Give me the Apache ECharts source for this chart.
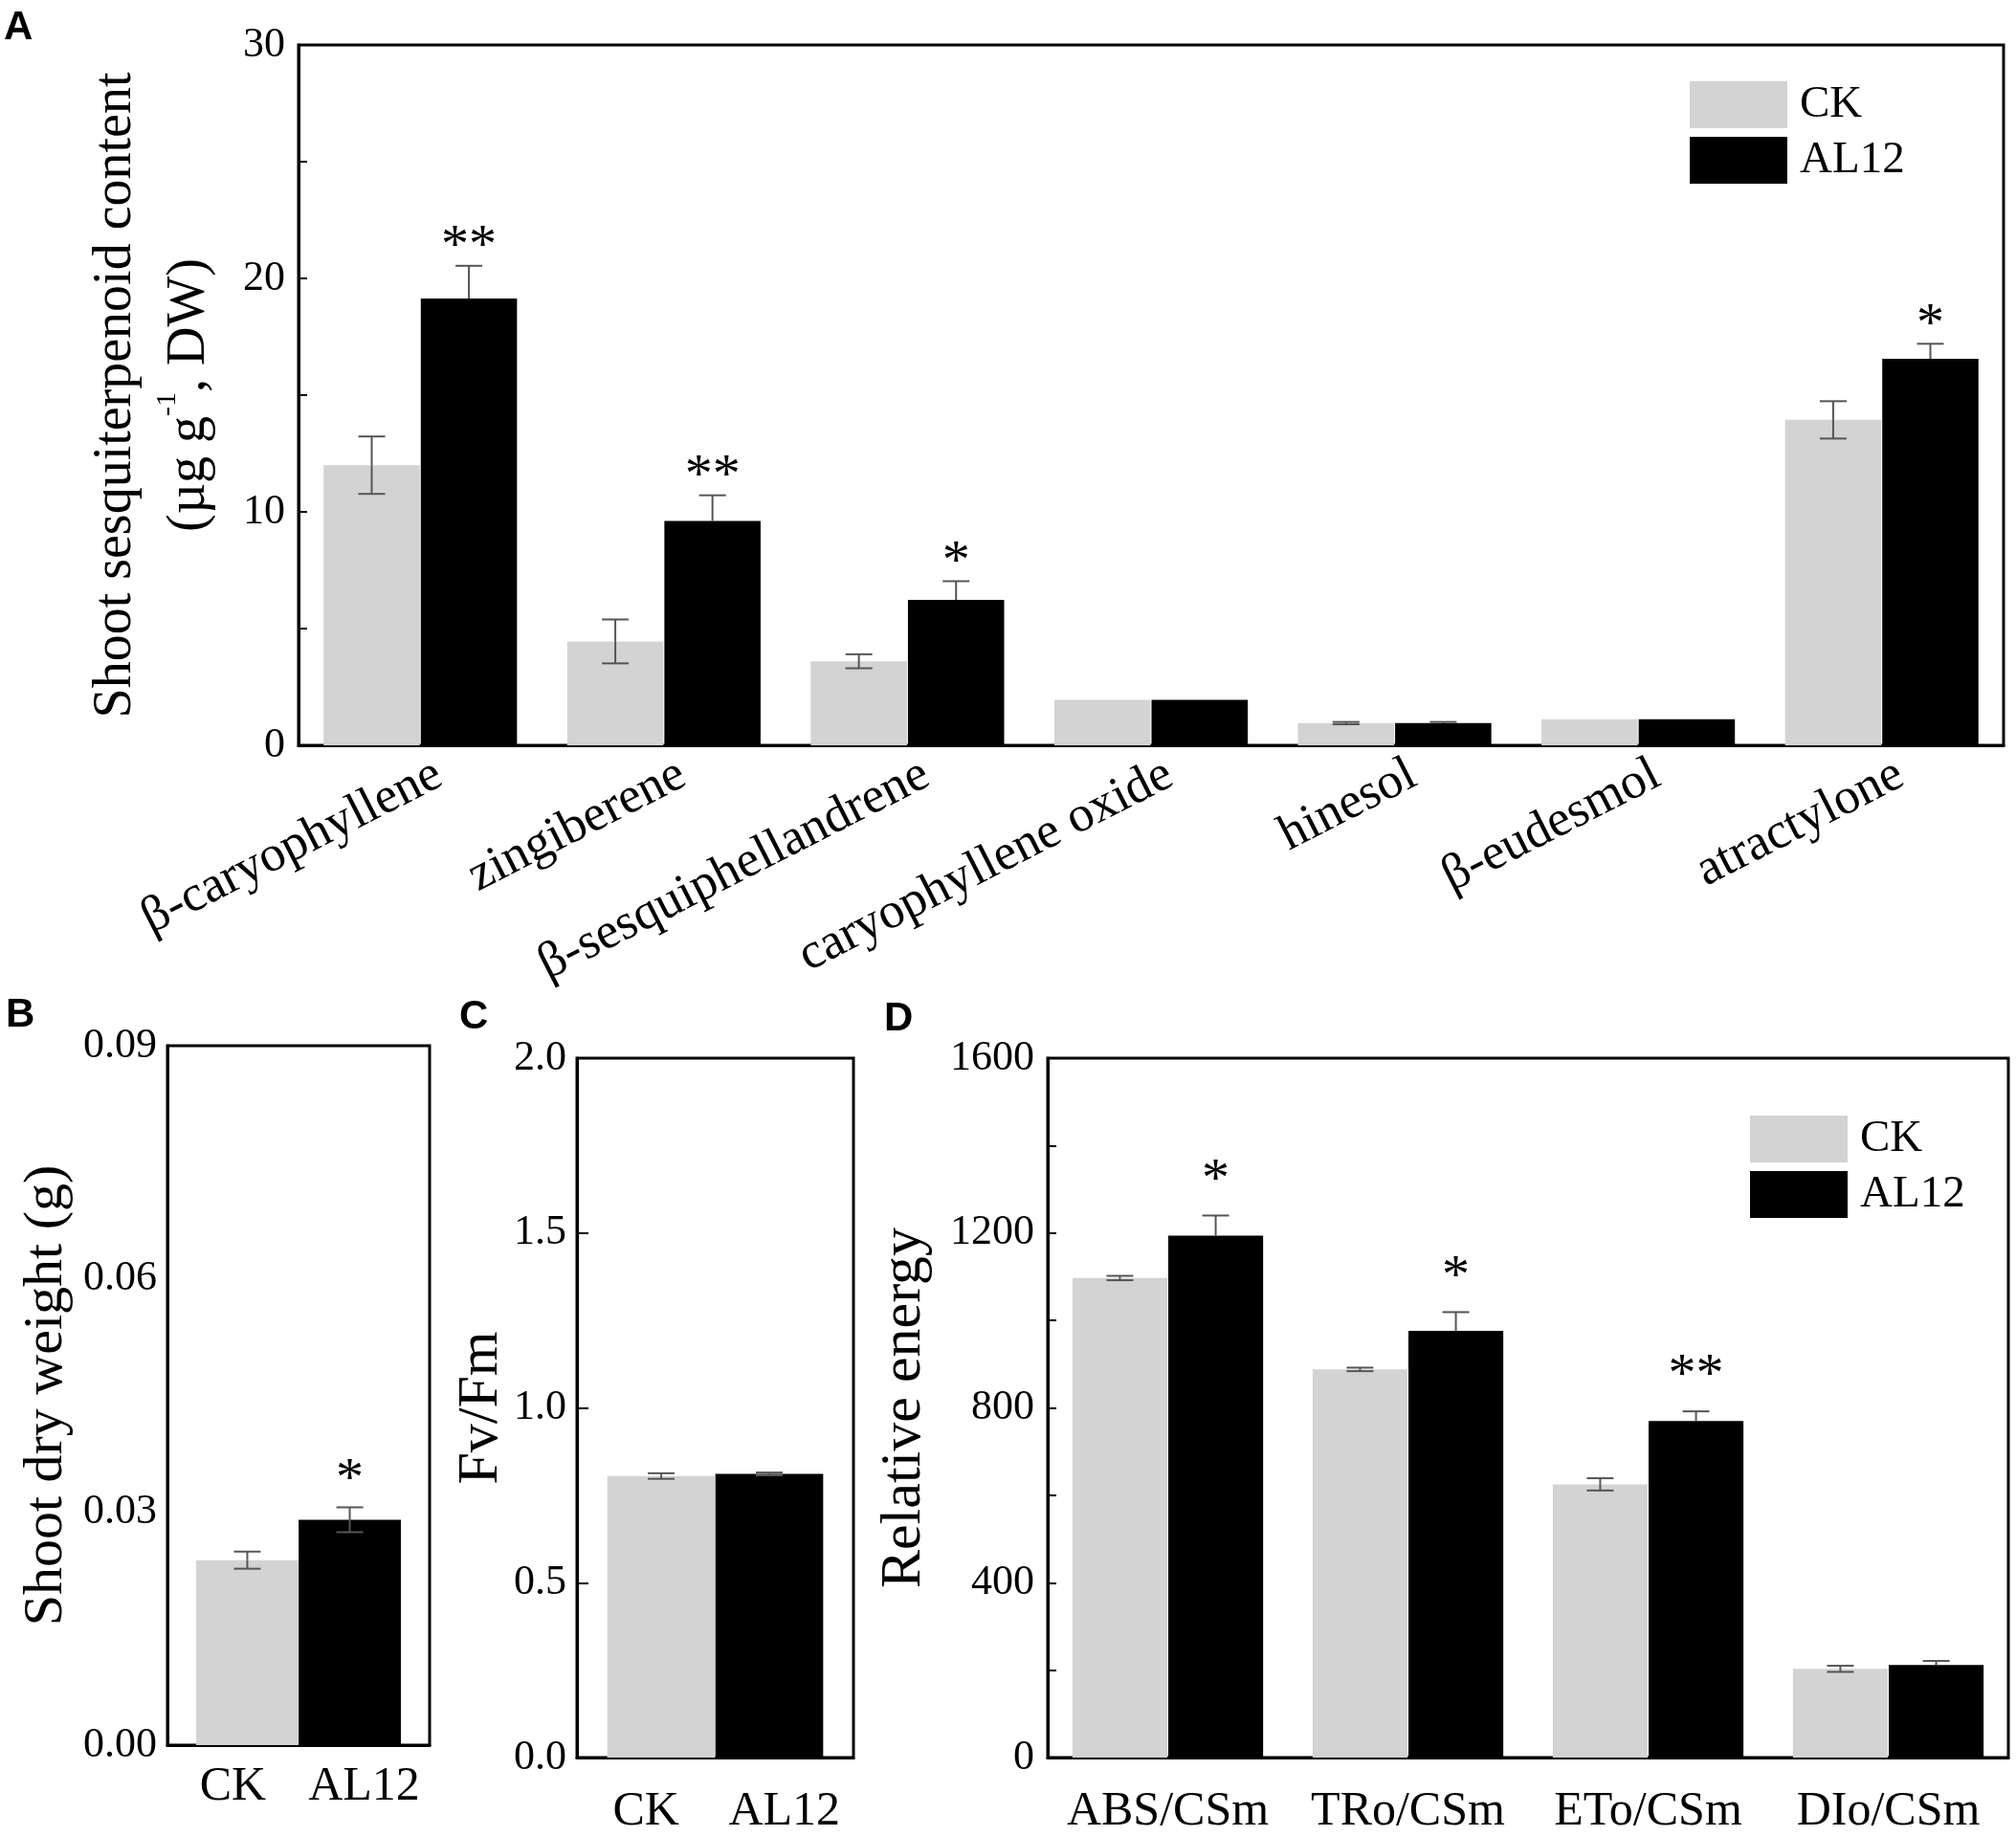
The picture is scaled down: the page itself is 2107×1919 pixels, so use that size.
<!DOCTYPE html>
<html>
<head>
<meta charset="utf-8">
<script src="https://cdn.jsdelivr.net/npm/echarts@6/dist/echarts.min.js"></script>
<style>
  html, body { margin: 0; padding: 0; background: #fff; }
  #chart { width: 2107px; height: 1919px; }
</style>
</head>
<body>
<div id="chart"></div>
<script>
// ---- data ----
var categoriesA = ['β-caryophyllene', 'zingiberene', 'β-sesquiphellandrene', 'caryophyllene oxide', 'hinesol', 'β-eudesmol', 'atractylone'];
var ckA = [12.0, 4.45, 3.6, 1.95, 0.95, 1.12, 13.94];
var ckAErr = [1.23, 0.94, 0.3, 0, 0.05, 0, 0.8];
var al12A = [19.14, 9.61, 6.23, 1.95, 0.95, 1.12, 16.56];
var al12AErr = [1.4, 1.1, 0.8, 0, 0.05, 0, 0.64];
var sigA = ['**', '**', '*', '', '', '', '*'];

var categoriesBC = ['CK', 'AL12'];
var weightB = [0.0238, 0.0290];
var weightBErr = [0.0011, 0.0016];
var sigB = ['', '*'];

var fvfmC = [0.805, 0.811];
var fvfmCErr = [0.008, 0.004];
var sigC = ['', ''];

var categoriesD = ['ABS/CSm', 'TRo/CSm', 'ETo/CSm', 'DIo/CSm'];
var ckD = [1097, 888, 625, 203];
var ckDErr = [5, 4, 14, 7];
var al12D = [1194, 976, 770, 212];
var al12DErr = [46, 43, 22, 9];
var sigD = ['*', '*', '**', ''];

var SERIF = '"Liberation Serif", "Times New Roman", serif';
var GREY = '#d3d3d3';

// bar geometry shared with the error bar series (fractions of the band width)
var pairWidth = 0.395, pairGap = 0.01;
var pairOffset = (pairWidth + pairWidth * pairGap) / 2;      // A and D: CK left, AL12 right
var soloWidth = 0.78, soloGap = -0.72;
var soloOffset = (soloWidth + soloWidth * soloGap) / 2;      // B and C: bars pulled to the middle

function errSeries(id, xi, values, errs, sig, offsets, showLower, starLift) {
    var data = values.map(function (v, i) { return [i, v, errs[i]]; });
    return {
        type: 'custom', name: id, xAxisIndex: xi, yAxisIndex: xi, z: 5,
        silent: true, clip: false,
        encode: { x: 0, y: 1 },
        data: data,
        renderItem: function (params, api) {
            var i = api.value(0), v = api.value(1), e = api.value(2);
            var band = api.size([1, 0])[0];
            var base = api.coord([i, v]);
            var x = base[0] + offsets[params.dataIndex] * band;
            var yTop = api.coord([i, v + e])[1];
            var yBot = api.coord([i, v - e])[1];
            var cap = 14;
            var ls = { stroke: '#555', lineWidth: 2 };
            var kids = [];
            if (e > 0) {
                kids.push({ type: 'line', shape: { x1: x, y1: yTop, x2: x, y2: base[1] }, style: ls });
                kids.push({ type: 'line', shape: { x1: x - cap, y1: yTop, x2: x + cap, y2: yTop }, style: ls });
                if (showLower) {
                    kids.push({ type: 'line', shape: { x1: x, y1: base[1], x2: x, y2: yBot }, style: ls });
                    kids.push({ type: 'line', shape: { x1: x - cap, y1: yBot, x2: x + cap, y2: yBot }, style: ls });
                }
            }
            var s = sig[params.dataIndex];
            if (s) {
                kids.push({
                    type: 'text',
                    style: {
                        text: s, x: x, y: yTop - starLift,
                        font: '58px ' + SERIF, fill: '#000',
                        align: 'center', verticalAlign: 'middle',
                        textAlign: 'center', textVerticalAlign: 'middle'
                    }
                });
            }
            return { type: 'group', children: kids };
        }
    };
}

function fill(n, v) { var a = []; for (var i = 0; i < n; i++) a.push(v); return a; }

var frame = { show: true, borderColor: '#000', borderWidth: 3, backgroundColor: 'transparent' };
var axisLine = { show: true, lineStyle: { color: '#000', width: 3 } };
var tickLabel = { color: '#000', fontFamily: SERIF, fontSize: 44, margin: 14 };

var chart = echarts.init(document.getElementById('chart'), null, { renderer: 'canvas' });

chart.setOption({
    animation: false,
    backgroundColor: '#fff',
    grid: [
        Object.assign({ left: 312, top: 47, width: 1782, height: 732 }, frame),
        Object.assign({ left: 175, top: 1093, width: 274, height: 731 }, frame),
        Object.assign({ left: 603, top: 1106, width: 289, height: 732 }, frame),
        Object.assign({ left: 1095, top: 1106, width: 1004, height: 732 }, frame)
    ],
    xAxis: [
        { gridIndex: 0, type: 'category', data: categoriesA, axisLine: axisLine, axisTick: { show: false },
          axisLabel: { interval: 0, rotate: 27, margin: 38, padding: [0, -22, 0, 0],
                       color: '#000', fontFamily: SERIF, fontSize: 53 } },
        { gridIndex: 1, type: 'category', data: categoriesBC, axisLine: axisLine, axisTick: { show: false },
          axisLabel: { interval: 0, margin: 19, color: '#000', fontFamily: SERIF, fontSize: 50 } },
        { gridIndex: 2, type: 'category', data: categoriesBC, axisLine: axisLine, axisTick: { show: false },
          axisLabel: { interval: 0, margin: 32, color: '#000', fontFamily: SERIF, fontSize: 50 } },
        { gridIndex: 3, type: 'category', data: categoriesD, axisLine: axisLine, axisTick: { show: false },
          axisLabel: { interval: 0, margin: 32, color: '#000', fontFamily: SERIF, fontSize: 50 } }
    ],
    yAxis: [
        { gridIndex: 0, type: 'value', min: 0, max: 30, interval: 10,
          axisLine: axisLine, splitLine: { show: false },
          axisTick: { show: true, inside: true, length: 9, lineStyle: { color: '#000', width: 2 } },
          minorTick: { show: true, splitNumber: 2, length: 9, lineStyle: { color: '#000', width: 2 } },
          axisLabel: tickLabel,
          name: '{t|Shoot sesquiterpenoid content}\n{t|(µg g}{s|-1}{t|, DW)}',
          nameLocation: 'middle', nameRotate: 90, nameGap: 75,
          nameTextStyle: { color: '#000', fontFamily: SERIF, fontSize: 56, lineHeight: 77,
              rich: {
                  t: { fontFamily: SERIF, fontSize: 56, lineHeight: 77, color: '#000' },
                  s: { fontFamily: SERIF, fontSize: 30, lineHeight: 77, color: '#000', verticalAlign: 'top' }
              } } },
        { gridIndex: 1, type: 'value', min: 0, max: 0.09, interval: 0.03,
          axisLine: axisLine, splitLine: { show: false }, axisTick: { show: false },
          axisLabel: Object.assign({}, tickLabel, { margin: 11, formatter: function (v) { return v.toFixed(2); } }),
          name: 'Shoot dry weight (g)', nameLocation: 'middle', nameRotate: 90, nameGap: 97,
          nameTextStyle: { color: '#000', fontFamily: SERIF, fontSize: 58, lineHeight: 58 } },
        { gridIndex: 2, type: 'value', min: 0, max: 2, interval: 0.5,
          axisLine: axisLine, splitLine: { show: false },
          axisTick: { show: true, inside: true, length: 12, lineStyle: { color: '#000', width: 2 } },
          axisLabel: Object.assign({}, tickLabel, { margin: 11, formatter: function (v) { return v.toFixed(1); } }),
          name: 'Fv/Fm', nameLocation: 'middle', nameRotate: 90, nameGap: 68,
          nameTextStyle: { color: '#000', fontFamily: SERIF, fontSize: 60, lineHeight: 60 } },
        { gridIndex: 3, type: 'value', min: 0, max: 1600, interval: 400,
          axisLine: axisLine, splitLine: { show: false },
          axisTick: { show: true, inside: true, length: 9, lineStyle: { color: '#000', width: 2 } },
          minorTick: { show: true, splitNumber: 2, length: 9, lineStyle: { color: '#000', width: 2 } },
          axisLabel: Object.assign({}, tickLabel, { formatter: function (v) { return String(v); } }),
          name: 'Relative energy', nameLocation: 'middle', nameRotate: 90, nameGap: 120,
          nameTextStyle: { color: '#000', fontFamily: SERIF, fontSize: 60, lineHeight: 60 } }
    ],
    legend: [
        { data: ['CK', 'AL12'], orient: 'vertical', left: 1761, top: 80, icon: 'rect',
          itemWidth: 102, itemHeight: 49, itemGap: 9, selectedMode: false,
          textStyle: { color: '#000', fontFamily: SERIF, fontSize: 47, lineHeight: 49, padding: [0, 0, 0, 8] } },
        { data: ['CK', 'AL12'], orient: 'vertical', left: 1824, top: 1161, icon: 'rect',
          itemWidth: 102, itemHeight: 49, itemGap: 9, selectedMode: false,
          textStyle: { color: '#000', fontFamily: SERIF, fontSize: 47, lineHeight: 49, padding: [0, 0, 0, 8] } }
    ],
    graphic: [
        { type: 'text', left: 4, top: 8, style: { text: 'A', font: 'bold 42px "Liberation Sans", Arial, sans-serif', fill: '#000' } },
        { type: 'text', left: 6, top: 1040, style: { text: 'B', font: 'bold 42px "Liberation Sans", Arial, sans-serif', fill: '#000' } },
        { type: 'text', left: 480, top: 1042, style: { text: 'C', font: 'bold 42px "Liberation Sans", Arial, sans-serif', fill: '#000' } },
        { type: 'text', left: 924, top: 1044, style: { text: 'D', font: 'bold 42px "Liberation Sans", Arial, sans-serif', fill: '#000' } }
    ],
    series: [
        // A
        { type: 'bar', name: 'CK', xAxisIndex: 0, yAxisIndex: 0, data: ckA, barWidth: '39.5%', barGap: '1%', itemStyle: { color: GREY } },
        { type: 'bar', name: 'AL12', xAxisIndex: 0, yAxisIndex: 0, data: al12A, barWidth: '39.5%', barGap: '1%', itemStyle: { color: '#000' } },
        errSeries('errA-CK', 0, ckA, ckAErr, fill(7, ''), fill(7, -pairOffset), true, 19),
        errSeries('errA-AL12', 0, al12A, al12AErr, sigA, fill(7, pairOffset), false, 19),
        // B (AL12 series first so each bar leans toward the middle)
        { type: 'bar', name: 'AL12', xAxisIndex: 1, yAxisIndex: 1, data: ['-', weightB[1]], barWidth: '78%', barGap: '-72%', itemStyle: { color: '#000' } },
        { type: 'bar', name: 'CK', xAxisIndex: 1, yAxisIndex: 1, data: [weightB[0], '-'], barWidth: '78%', barGap: '-72%', itemStyle: { color: GREY } },
        errSeries('errB', 1, weightB, weightBErr, sigB, [soloOffset, -soloOffset], true, 28),
        // C
        { type: 'bar', name: 'AL12', xAxisIndex: 2, yAxisIndex: 2, data: ['-', fvfmC[1]], barWidth: '78%', barGap: '-72%', itemStyle: { color: '#000' } },
        { type: 'bar', name: 'CK', xAxisIndex: 2, yAxisIndex: 2, data: [fvfmC[0], '-'], barWidth: '78%', barGap: '-72%', itemStyle: { color: GREY } },
        errSeries('errC', 2, fvfmC, fvfmCErr, sigC, [soloOffset, -soloOffset], true, 28),
        // D
        { type: 'bar', name: 'CK', xAxisIndex: 3, yAxisIndex: 3, data: ckD, barWidth: '39.5%', barGap: '1%', itemStyle: { color: GREY } },
        { type: 'bar', name: 'AL12', xAxisIndex: 3, yAxisIndex: 3, data: al12D, barWidth: '39.5%', barGap: '1%', itemStyle: { color: '#000' } },
        errSeries('errD-CK', 3, ckD, ckDErr, fill(4, ''), fill(4, -pairOffset), true, 36),
        errSeries('errD-AL12', 3, al12D, al12DErr, sigD, fill(4, pairOffset), false, 36)
    ]
});
</script>
</body>
</html>
